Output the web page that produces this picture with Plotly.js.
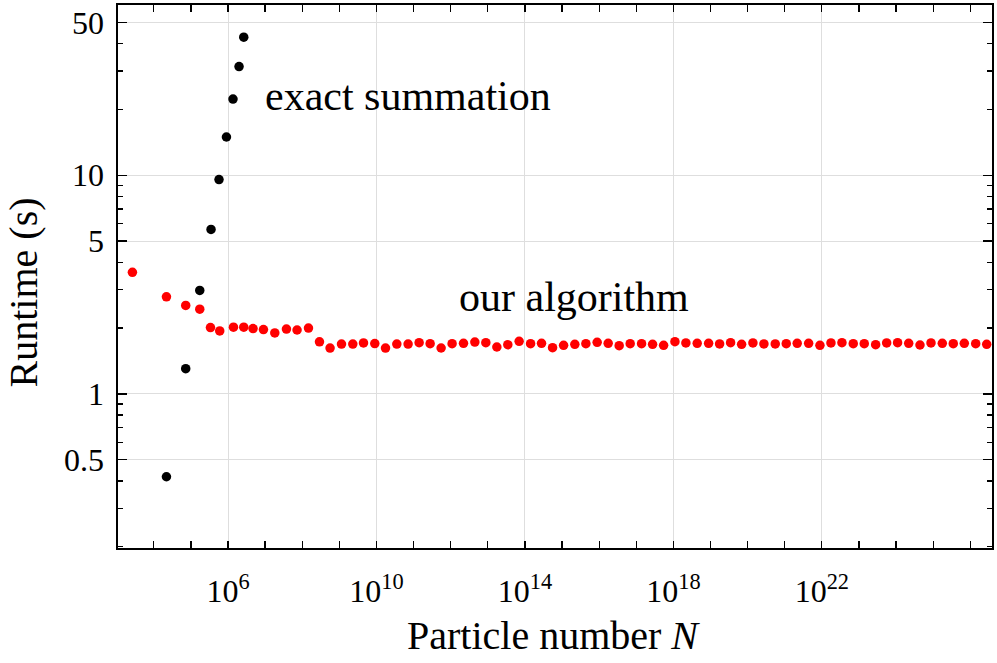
<!DOCTYPE html>
<html>
<head>
<meta charset="utf-8">
<script src="https://cdn.plot.ly/plotly-3.0.1.min.js"></script>
<style>
html, body { margin: 0; padding: 0; background: #ffffff; }
#chart { width: 997px; height: 663px; }
</style>
</head>
<body>
<div id="chart"></div>
<script>
// Particle number N for "our algorithm" (red)
const algoN = [2.65e3, 2.19e4, 7.24e4, 1.73e5, 3.36e5, 5.97e5, 1.40e6, 2.65e6, 4.72e6, 9.00e6,
  1.82e7, 3.75e7, 7.24e7, 1.47e8, 2.91e8, 5.61e8, 1.14e9, 2.30e9, 4.47e9, 9.00e9,
  1.75e10, 3.53e10, 7.11e10, 1.41e11, 2.79e11, 5.51e11, 1.09e12, 2.21e12, 4.47e12, 8.84e12,
  1.75e13, 3.46e13, 6.98e13, 1.42e14, 2.80e14, 5.55e14, 1.10e15, 2.21e15, 4.39e15, 8.83e15,
  1.75e16, 3.46e16, 6.85e16, 1.39e17, 2.75e17, 5.45e17, 1.10e18, 2.17e18, 4.38e18, 8.90e18,
  1.76e19, 3.48e19, 6.89e19, 1.39e20, 2.75e20, 5.55e20, 1.10e21, 2.17e21, 4.41e21, 8.89e21,
  1.76e22, 3.48e22, 7.02e22, 1.39e23, 2.82e23, 5.58e23, 1.10e24, 2.19e24, 4.41e24, 8.73e24,
  1.76e25, 3.48e25, 6.89e25, 1.40e26, 2.77e26];
// Runtime (s) for "our algorithm"
const algoT = [3.60, 2.78, 2.54, 2.44, 2.01, 1.94, 2.02, 2.02, 1.99, 1.97,
  1.90, 1.98, 1.96, 2.00, 1.73, 1.62, 1.69, 1.69, 1.71, 1.70,
  1.62, 1.69, 1.69, 1.715, 1.697, 1.622, 1.697, 1.704, 1.727, 1.715,
  1.639, 1.679, 1.740, 1.697, 1.704, 1.627, 1.669, 1.686, 1.697, 1.722,
  1.704, 1.662, 1.697, 1.697, 1.686, 1.669, 1.733, 1.710, 1.704, 1.704,
  1.692, 1.715, 1.686, 1.710, 1.692, 1.692, 1.697, 1.704, 1.704, 1.669,
  1.710, 1.715, 1.697, 1.697, 1.679, 1.710, 1.715, 1.704, 1.674, 1.710,
  1.704, 1.697, 1.704, 1.697, 1.686];
// Particle number N and runtime for exact summation (black)
const exactN = [2.19e4, 7.24e4, 1.73e5, 3.48e5, 5.71e5, 9.06e5, 1.36e6, 1.98e6, 2.65e6];
const exactT = [0.418, 1.305, 2.975, 5.65, 9.55, 14.96, 22.3, 31.4, 42.8];

const xTickVals = [1e6, 1e10, 1e14, 1e18, 1e22];
const xTickText = ['10<sup>6</sup>', '10<sup>10</sup>', '10<sup>14</sup>', '10<sup>18</sup>', '10<sup>22</sup>'];
const yTickVals = [0.5, 1, 5, 10, 50];
const yTickText = ['0.5', '1', '5', '10', '50'];
const xMinorVals = [1e3,1e4,1e5,1e7,1e8,1e9,1e11,1e12,1e13,1e15,1e16,1e17,1e19,1e20,1e21,1e23,1e24,1e25,1e26];
const yMinorVals = [0.2,0.3,0.4,0.6,0.7,0.8,0.9,2,3,4,6,7,8,9,20,30,40];

const labels = {
  x: 'Particle number <i>N</i>',
  y: 'Runtime (s)',
  exact: 'exact summation',
  algo: 'our algorithm'
};

const FONT = '"Liberation Serif", "DejaVu Serif", serif';
const BIG = 42;
const TITLE = 40;

const traces = [
  { x: exactN, y: exactT, type: 'scatter', mode: 'markers', name: 'exact',
    marker: { color: '#000000', size: 9.5 }, hoverinfo: 'skip' },
  { x: algoN, y: algoT, type: 'scatter', mode: 'markers', name: 'algo',
    marker: { color: '#ff0000', size: 9.5 }, hoverinfo: 'skip' }
];

const axisCommon = {
  showline: true, linecolor: '#000000', linewidth: 1.6, mirror: 'allticks',
  ticks: 'inside', tickcolor: '#000000', tickwidth: 1.3,
  showgrid: true, gridcolor: '#dedede', gridwidth: 1,
  zeroline: false,
  tickfont: { family: FONT, size: 32, color: '#000000' },
  tickmode: 'array'
};

function ann(text, x, y, size, opts) {
  return Object.assign({ text: text, xref: 'paper', yref: 'paper', x: x, y: y,
    xanchor: 'left', yanchor: 'middle', showarrow: false,
    font: { family: FONT, size: size, color: '#000000' } }, opts || {});
}

const layout = {
  width: 997, height: 663,
  paper_bgcolor: '#ffffff', plot_bgcolor: '#ffffff',
  margin: { l: 118, r: 5, t: 5, b: 115 },
  showlegend: false,
  font: { family: FONT, color: '#000000' },
  xaxis: Object.assign({}, axisCommon, {
    type: 'log', range: [3.035, 26.585],
    tickvals: xTickVals, ticktext: xTickText, ticklen: 7,
    ticklabelstandoff: 14,
    minor: { tickmode: 'array', tickvals: xMinorVals, ticks: 'inside', ticklen: 7, tickwidth: 1.3, tickcolor: '#000000', showgrid: false }
  }),
  yaxis: Object.assign({}, axisCommon, {
    type: 'log', range: [-0.7046, 1.7785],
    tickvals: yTickVals, ticktext: yTickText, ticklen: 9,
    ticklabelstandoff: 6,
    minor: { tickmode: 'array', tickvals: yMinorVals, ticks: 'inside', ticklen: 5, tickwidth: 1.3, tickcolor: '#000000', showgrid: false }
  }),
  annotations: [
    ann(labels.exact, 0.1656, 0.8317, BIG),
    ann(labels.algo, 0.3877, 0.4621, BIG),
    ann(labels.x, 0.498, -0.2055, TITLE, { xanchor: 'center', yanchor: 'bottom' }),
    ann(labels.y, -0.1085, 0.471, TITLE, { xanchor: 'center', textangle: -90 })
  ]
};

Plotly.newPlot('chart', traces, layout, { staticPlot: true, displayModeBar: false });
</script>
</body>
</html>
